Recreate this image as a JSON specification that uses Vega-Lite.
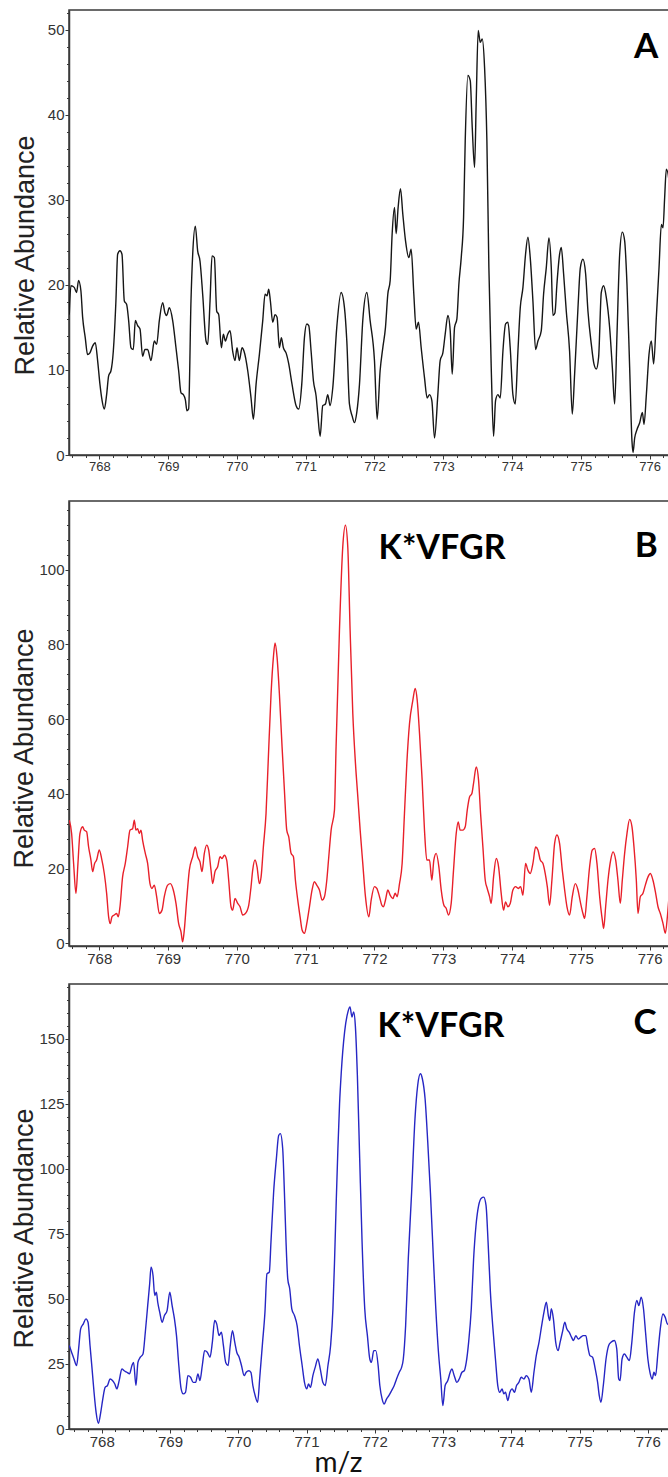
{
  "$schema": "https://vega.github.io/schema/vega-lite/v6.json",
  "background": "white",
  "padding": {"left": 10, "top": 9, "right": 0, "bottom": 0},
  "config": {
    "view": {"stroke": "#3a3a3a", "strokeWidth": 1.5},
    "axis": {
      "grid": false,
      "domainColor": "#3a3a3a",
      "domainWidth": 1.5,
      "tickColor": "#3a3a3a",
      "tickWidth": 1,
      "labelColor": "#333333",
      "labelFont": "Liberation Sans",
      "titleFont": "Liberation Sans",
      "titleFontWeight": "normal",
      "titleColor": "#222222",
      "labelOverlap": false,
      "labelFlush": false
    }
  },
  "datasets": {
    "A": [
      {"mz":767.564,"ab":16.5},{"mz":767.588,"ab":19.9},{"mz":767.636,"ab":19.7},{"mz":767.670,"ab":19.1},{"mz":767.699,"ab":20.5},{"mz":767.733,"ab":19.3},{"mz":767.758,"ab":16.2},{"mz":767.796,"ab":13.8},{"mz":767.830,"ab":11.8},{"mz":767.864,"ab":12.0},{"mz":767.903,"ab":12.8},{"mz":767.942,"ab":13.2},{"mz":767.976,"ab":11.1},{"mz":768.010,"ab":8.3},{"mz":768.039,"ab":6.5},{"mz":768.073,"ab":5.4},{"mz":768.107,"ab":7.1},{"mz":768.136,"ab":9.3},{"mz":768.170,"ab":9.9},{"mz":768.204,"ab":12.2},{"mz":768.242,"ab":18.1},{"mz":768.267,"ab":23.6},{"mz":768.301,"ab":24.0},{"mz":768.330,"ab":23.6},{"mz":768.364,"ab":18.1},{"mz":768.398,"ab":17.7},{"mz":768.427,"ab":15.8},{"mz":768.461,"ab":12.6},{"mz":768.495,"ab":12.4},{"mz":768.524,"ab":15.8},{"mz":768.558,"ab":15.2},{"mz":768.592,"ab":14.8},{"mz":768.630,"ab":11.6},{"mz":768.664,"ab":12.4},{"mz":768.703,"ab":12.4},{"mz":768.752,"ab":11.1},{"mz":768.800,"ab":13.4},{"mz":768.834,"ab":13.0},{"mz":768.873,"ab":15.8},{"mz":768.921,"ab":17.9},{"mz":768.955,"ab":16.7},{"mz":768.979,"ab":16.4},{"mz":769.018,"ab":17.3},{"mz":769.067,"ab":15.8},{"mz":769.115,"ab":12.6},{"mz":769.154,"ab":9.9},{"mz":769.188,"ab":7.3},{"mz":769.222,"ab":7.1},{"mz":769.251,"ab":6.5},{"mz":769.275,"ab":5.2},{"mz":769.299,"ab":5.4},{"mz":769.333,"ab":18.1},{"mz":769.358,"ab":23.6},{"mz":769.396,"ab":26.9},{"mz":769.430,"ab":24.0},{"mz":769.464,"ab":22.8},{"mz":769.503,"ab":18.9},{"mz":769.552,"ab":13.4},{"mz":769.576,"ab":13.0},{"mz":769.610,"ab":18.1},{"mz":769.639,"ab":23.4},{"mz":769.673,"ab":23.2},{"mz":769.707,"ab":16.9},{"mz":769.736,"ab":16.5},{"mz":769.775,"ab":12.6},{"mz":769.804,"ab":14.2},{"mz":769.833,"ab":13.4},{"mz":769.867,"ab":14.2},{"mz":769.901,"ab":14.6},{"mz":769.939,"ab":12.2},{"mz":769.973,"ab":11.1},{"mz":770.002,"ab":12.6},{"mz":770.036,"ab":11.1},{"mz":770.075,"ab":12.6},{"mz":770.104,"ab":12.2},{"mz":770.158,"ab":9.9},{"mz":770.206,"ab":6.7},{"mz":770.240,"ab":4.2},{"mz":770.279,"ab":8.3},{"mz":770.327,"ab":11.8},{"mz":770.376,"ab":15.8},{"mz":770.410,"ab":18.9},{"mz":770.439,"ab":18.7},{"mz":770.463,"ab":19.5},{"mz":770.487,"ab":18.1},{"mz":770.521,"ab":15.6},{"mz":770.555,"ab":16.5},{"mz":770.584,"ab":16.2},{"mz":770.618,"ab":12.6},{"mz":770.647,"ab":13.8},{"mz":770.676,"ab":12.6},{"mz":770.715,"ab":12.0},{"mz":770.754,"ab":10.7},{"mz":770.802,"ab":8.3},{"mz":770.861,"ab":5.8},{"mz":770.899,"ab":5.4},{"mz":770.943,"ab":8.3},{"mz":770.982,"ab":13.8},{"mz":771.016,"ab":15.4},{"mz":771.045,"ab":15.2},{"mz":771.079,"ab":12.2},{"mz":771.113,"ab":8.7},{"mz":771.152,"ab":6.9},{"mz":771.176,"ab":4.8},{"mz":771.210,"ab":2.2},{"mz":771.248,"ab":5.8},{"mz":771.287,"ab":6.0},{"mz":771.321,"ab":7.1},{"mz":771.355,"ab":5.8},{"mz":771.394,"ab":7.9},{"mz":771.452,"ab":15.0},{"mz":771.515,"ab":19.1},{"mz":771.564,"ab":17.3},{"mz":771.598,"ab":13.4},{"mz":771.636,"ab":6.0},{"mz":771.675,"ab":4.6},{"mz":771.709,"ab":3.8},{"mz":771.743,"ab":5.0},{"mz":771.782,"ab":8.3},{"mz":771.830,"ab":15.8},{"mz":771.889,"ab":19.1},{"mz":771.937,"ab":15.8},{"mz":772.000,"ab":11.1},{"mz":772.039,"ab":4.2},{"mz":772.082,"ab":9.9},{"mz":772.121,"ab":12.6},{"mz":772.160,"ab":15.0},{"mz":772.194,"ab":18.9},{"mz":772.228,"ab":20.5},{"mz":772.257,"ab":26.0},{"mz":772.291,"ab":29.1},{"mz":772.315,"ab":26.0},{"mz":772.344,"ab":29.1},{"mz":772.378,"ab":31.3},{"mz":772.412,"ab":28.3},{"mz":772.451,"ab":25.2},{"mz":772.499,"ab":23.2},{"mz":772.533,"ab":24.2},{"mz":772.572,"ab":18.9},{"mz":772.606,"ab":14.8},{"mz":772.640,"ab":15.6},{"mz":772.679,"ab":12.6},{"mz":772.727,"ab":9.1},{"mz":772.766,"ab":6.7},{"mz":772.800,"ab":7.1},{"mz":772.834,"ab":6.4},{"mz":772.873,"ab":2.0},{"mz":772.921,"ab":7.1},{"mz":772.955,"ab":11.1},{"mz":772.994,"ab":12.0},{"mz":773.028,"ab":14.2},{"mz":773.067,"ab":16.4},{"mz":773.101,"ab":14.6},{"mz":773.130,"ab":9.5},{"mz":773.164,"ab":15.0},{"mz":773.198,"ab":16.0},{"mz":773.227,"ab":20.1},{"mz":773.261,"ab":23.2},{"mz":773.295,"ab":27.9},{"mz":773.319,"ab":36.9},{"mz":773.358,"ab":44.6},{"mz":773.392,"ab":44.0},{"mz":773.421,"ab":38.5},{"mz":773.455,"ab":33.8},{"mz":773.479,"ab":41.6},{"mz":773.508,"ab":49.9},{"mz":773.537,"ab":48.5},{"mz":773.566,"ab":48.9},{"mz":773.600,"ab":45.6},{"mz":773.634,"ab":36.9},{"mz":773.663,"ab":22.0},{"mz":773.697,"ab":10.3},{"mz":773.731,"ab":2.2},{"mz":773.760,"ab":6.4},{"mz":773.794,"ab":7.1},{"mz":773.828,"ab":6.7},{"mz":773.867,"ab":12.2},{"mz":773.906,"ab":15.4},{"mz":773.940,"ab":15.6},{"mz":773.973,"ab":12.6},{"mz":774.012,"ab":7.1},{"mz":774.046,"ab":6.0},{"mz":774.085,"ab":12.2},{"mz":774.119,"ab":17.3},{"mz":774.158,"ab":19.7},{"mz":774.196,"ab":23.6},{"mz":774.230,"ab":25.6},{"mz":774.264,"ab":23.2},{"mz":774.303,"ab":18.1},{"mz":774.342,"ab":12.4},{"mz":774.376,"ab":13.4},{"mz":774.424,"ab":14.6},{"mz":774.458,"ab":18.9},{"mz":774.497,"ab":22.0},{"mz":774.536,"ab":25.5},{"mz":774.570,"ab":22.0},{"mz":774.594,"ab":16.4},{"mz":774.623,"ab":16.7},{"mz":774.652,"ab":20.1},{"mz":774.691,"ab":23.6},{"mz":774.715,"ab":24.4},{"mz":774.749,"ab":21.3},{"mz":774.788,"ab":16.9},{"mz":774.836,"ab":12.2},{"mz":774.875,"ab":4.8},{"mz":774.909,"ab":9.5},{"mz":774.958,"ab":17.3},{"mz":774.992,"ab":22.0},{"mz":775.030,"ab":23.0},{"mz":775.069,"ab":21.3},{"mz":775.103,"ab":16.9},{"mz":775.152,"ab":13.0},{"mz":775.190,"ab":10.7},{"mz":775.224,"ab":10.1},{"mz":775.258,"ab":11.5},{"mz":775.297,"ab":19.1},{"mz":775.331,"ab":19.9},{"mz":775.370,"ab":18.5},{"mz":775.418,"ab":15.0},{"mz":775.457,"ab":10.3},{"mz":775.491,"ab":6.0},{"mz":775.525,"ab":14.2},{"mz":775.564,"ab":23.6},{"mz":775.602,"ab":26.2},{"mz":775.636,"ab":25.2},{"mz":775.670,"ab":20.1},{"mz":775.709,"ab":10.3},{"mz":775.743,"ab":1.6},{"mz":775.758,"ab":0.3},{"mz":775.782,"ab":2.0},{"mz":775.816,"ab":3.0},{"mz":775.855,"ab":3.8},{"mz":775.894,"ab":5.0},{"mz":775.918,"ab":3.6},{"mz":775.952,"ab":7.1},{"mz":775.990,"ab":11.8},{"mz":776.024,"ab":13.4},{"mz":776.058,"ab":10.7},{"mz":776.097,"ab":16.2},{"mz":776.136,"ab":22.0},{"mz":776.170,"ab":27.1},{"mz":776.194,"ab":26.7},{"mz":776.218,"ab":30.3},{"mz":776.242,"ab":33.6},{"mz":776.281,"ab":32.2},{"mz":776.310,"ab":29.1}
    ],
    "B": [
      {"mz":767.564,"ab":33.0},{"mz":767.598,"ab":29.4},{"mz":767.627,"ab":21.4},{"mz":767.661,"ab":13.4},{"mz":767.690,"ab":21.4},{"mz":767.719,"ab":29.4},{"mz":767.758,"ab":31.2},{"mz":767.782,"ab":30.3},{"mz":767.816,"ab":29.9},{"mz":767.845,"ab":25.8},{"mz":767.879,"ab":22.3},{"mz":767.903,"ab":19.2},{"mz":767.932,"ab":21.4},{"mz":767.961,"ab":22.3},{"mz":768.000,"ab":25.0},{"mz":768.034,"ab":22.7},{"mz":768.073,"ab":18.7},{"mz":768.107,"ab":13.4},{"mz":768.136,"ab":7.1},{"mz":768.160,"ab":5.3},{"mz":768.184,"ab":7.1},{"mz":768.218,"ab":7.6},{"mz":768.252,"ab":8.0},{"mz":768.276,"ab":7.1},{"mz":768.301,"ab":9.8},{"mz":768.339,"ab":17.8},{"mz":768.378,"ab":21.4},{"mz":768.412,"ab":25.8},{"mz":768.446,"ab":30.3},{"mz":768.485,"ab":30.7},{"mz":768.509,"ab":33.0},{"mz":768.533,"ab":30.3},{"mz":768.558,"ab":30.7},{"mz":768.582,"ab":29.4},{"mz":768.606,"ab":30.3},{"mz":768.630,"ab":27.6},{"mz":768.669,"ab":24.1},{"mz":768.703,"ab":21.4},{"mz":768.737,"ab":16.0},{"mz":768.766,"ab":14.7},{"mz":768.800,"ab":15.6},{"mz":768.834,"ab":12.5},{"mz":768.873,"ab":8.0},{"mz":768.912,"ab":8.9},{"mz":768.945,"ab":12.5},{"mz":768.994,"ab":15.6},{"mz":769.033,"ab":16.0},{"mz":769.076,"ab":14.3},{"mz":769.115,"ab":10.7},{"mz":769.154,"ab":5.3},{"mz":769.188,"ab":3.1},{"mz":769.212,"ab":0.4},{"mz":769.236,"ab":3.6},{"mz":769.270,"ab":11.6},{"mz":769.309,"ab":19.6},{"mz":769.358,"ab":23.2},{"mz":769.396,"ab":25.8},{"mz":769.430,"ab":23.2},{"mz":769.464,"ab":21.8},{"mz":769.493,"ab":19.2},{"mz":769.527,"ab":24.1},{"mz":769.561,"ab":26.3},{"mz":769.590,"ab":25.0},{"mz":769.624,"ab":19.6},{"mz":769.648,"ab":16.0},{"mz":769.682,"ab":19.2},{"mz":769.721,"ab":20.5},{"mz":769.755,"ab":23.2},{"mz":769.784,"ab":22.7},{"mz":769.818,"ab":23.6},{"mz":769.852,"ab":22.3},{"mz":769.881,"ab":16.9},{"mz":769.915,"ab":9.8},{"mz":769.939,"ab":8.9},{"mz":769.973,"ab":12.0},{"mz":770.012,"ab":10.7},{"mz":770.046,"ab":9.8},{"mz":770.085,"ab":7.6},{"mz":770.124,"ab":8.0},{"mz":770.172,"ab":10.2},{"mz":770.206,"ab":15.2},{"mz":770.230,"ab":19.6},{"mz":770.264,"ab":22.3},{"mz":770.293,"ab":20.5},{"mz":770.327,"ab":16.0},{"mz":770.352,"ab":17.8},{"mz":770.385,"ab":25.8},{"mz":770.424,"ab":34.8},{"mz":770.458,"ab":49.9},{"mz":770.497,"ab":66.8},{"mz":770.531,"ab":76.6},{"mz":770.555,"ab":80.4},{"mz":770.584,"ab":76.6},{"mz":770.618,"ab":66.8},{"mz":770.657,"ab":52.6},{"mz":770.691,"ab":41.0},{"mz":770.725,"ab":30.3},{"mz":770.754,"ab":28.5},{"mz":770.788,"ab":24.1},{"mz":770.822,"ab":23.2},{"mz":770.851,"ab":16.9},{"mz":770.885,"ab":11.6},{"mz":770.919,"ab":7.1},{"mz":770.948,"ab":3.6},{"mz":770.982,"ab":2.7},{"mz":771.016,"ab":5.3},{"mz":771.055,"ab":9.8},{"mz":771.093,"ab":14.3},{"mz":771.127,"ab":16.5},{"mz":771.161,"ab":15.6},{"mz":771.200,"ab":14.3},{"mz":771.239,"ab":11.6},{"mz":771.273,"ab":12.5},{"mz":771.307,"ab":16.9},{"mz":771.336,"ab":23.2},{"mz":771.370,"ab":30.3},{"mz":771.418,"ab":35.6},{"mz":771.442,"ab":52.6},{"mz":771.491,"ab":83.8},{"mz":771.539,"ab":106.1},{"mz":771.578,"ab":111.9},{"mz":771.612,"ab":106.1},{"mz":771.646,"ab":83.8},{"mz":771.685,"ab":61.5},{"mz":771.724,"ab":48.1},{"mz":771.758,"ab":39.2},{"mz":771.792,"ab":30.3},{"mz":771.830,"ab":21.4},{"mz":771.869,"ab":12.5},{"mz":771.918,"ab":7.1},{"mz":771.952,"ab":11.6},{"mz":772.000,"ab":15.2},{"mz":772.034,"ab":14.7},{"mz":772.073,"ab":12.5},{"mz":772.107,"ab":10.2},{"mz":772.131,"ab":9.8},{"mz":772.160,"ab":11.6},{"mz":772.194,"ab":14.3},{"mz":772.228,"ab":12.9},{"mz":772.267,"ab":12.0},{"mz":772.301,"ab":13.4},{"mz":772.330,"ab":12.5},{"mz":772.364,"ab":16.0},{"mz":772.402,"ab":21.4},{"mz":772.436,"ab":34.8},{"mz":772.470,"ab":48.1},{"mz":772.509,"ab":58.8},{"mz":772.558,"ab":65.1},{"mz":772.592,"ab":68.2},{"mz":772.621,"ab":65.1},{"mz":772.655,"ab":56.1},{"mz":772.693,"ab":43.7},{"mz":772.727,"ab":30.3},{"mz":772.761,"ab":22.3},{"mz":772.800,"ab":22.3},{"mz":772.834,"ab":16.9},{"mz":772.863,"ab":22.3},{"mz":772.897,"ab":24.1},{"mz":772.936,"ab":20.5},{"mz":772.970,"ab":14.3},{"mz":773.009,"ab":10.2},{"mz":773.042,"ab":9.4},{"mz":773.076,"ab":7.6},{"mz":773.115,"ab":10.7},{"mz":773.149,"ab":19.6},{"mz":773.188,"ab":29.4},{"mz":773.217,"ab":32.5},{"mz":773.246,"ab":30.3},{"mz":773.285,"ab":30.3},{"mz":773.319,"ab":31.2},{"mz":773.348,"ab":35.6},{"mz":773.382,"ab":39.2},{"mz":773.416,"ab":40.1},{"mz":773.440,"ab":42.8},{"mz":773.479,"ab":47.2},{"mz":773.513,"ab":43.7},{"mz":773.542,"ab":34.8},{"mz":773.576,"ab":25.8},{"mz":773.610,"ab":16.9},{"mz":773.639,"ab":14.7},{"mz":773.673,"ab":12.5},{"mz":773.697,"ab":10.7},{"mz":773.731,"ab":17.8},{"mz":773.770,"ab":22.7},{"mz":773.804,"ab":20.5},{"mz":773.842,"ab":13.4},{"mz":773.876,"ab":8.9},{"mz":773.905,"ab":11.1},{"mz":773.939,"ab":9.8},{"mz":773.973,"ab":10.7},{"mz":774.012,"ab":14.3},{"mz":774.051,"ab":15.2},{"mz":774.090,"ab":14.7},{"mz":774.124,"ab":15.2},{"mz":774.158,"ab":12.9},{"mz":774.196,"ab":21.4},{"mz":774.230,"ab":19.6},{"mz":774.264,"ab":18.7},{"mz":774.303,"ab":21.4},{"mz":774.342,"ab":25.8},{"mz":774.376,"ab":25.0},{"mz":774.410,"ab":22.3},{"mz":774.449,"ab":21.4},{"mz":774.482,"ab":18.7},{"mz":774.512,"ab":15.2},{"mz":774.545,"ab":10.2},{"mz":774.579,"ab":16.9},{"mz":774.618,"ab":26.7},{"mz":774.652,"ab":29.0},{"mz":774.691,"ab":26.7},{"mz":774.730,"ab":19.6},{"mz":774.764,"ab":14.3},{"mz":774.798,"ab":9.8},{"mz":774.836,"ab":7.6},{"mz":774.875,"ab":12.5},{"mz":774.919,"ab":16.0},{"mz":774.958,"ab":14.3},{"mz":774.992,"ab":11.1},{"mz":775.030,"ab":8.0},{"mz":775.055,"ab":6.7},{"mz":775.088,"ab":12.5},{"mz":775.127,"ab":20.5},{"mz":775.166,"ab":25.0},{"mz":775.200,"ab":25.4},{"mz":775.234,"ab":21.4},{"mz":775.273,"ab":12.5},{"mz":775.312,"ab":6.2},{"mz":775.331,"ab":4.0},{"mz":775.360,"ab":9.8},{"mz":775.394,"ab":16.9},{"mz":775.433,"ab":22.3},{"mz":775.467,"ab":24.5},{"mz":775.506,"ab":22.3},{"mz":775.539,"ab":16.9},{"mz":775.573,"ab":10.7},{"mz":775.602,"ab":16.9},{"mz":775.636,"ab":24.1},{"mz":775.670,"ab":29.4},{"mz":775.709,"ab":33.2},{"mz":775.743,"ab":31.2},{"mz":775.772,"ab":25.8},{"mz":775.806,"ab":16.9},{"mz":775.830,"ab":8.0},{"mz":775.864,"ab":12.5},{"mz":775.903,"ab":13.4},{"mz":775.937,"ab":15.6},{"mz":775.976,"ab":17.8},{"mz":776.010,"ab":18.7},{"mz":776.048,"ab":16.9},{"mz":776.087,"ab":13.4},{"mz":776.121,"ab":9.8},{"mz":776.155,"ab":8.0},{"mz":776.194,"ab":5.3},{"mz":776.228,"ab":2.7},{"mz":776.257,"ab":7.1},{"mz":776.281,"ab":12.5},{"mz":776.310,"ab":18.7}
    ],
    "C": [
      {"mz":767.524,"ab":32.1},{"mz":767.558,"ab":29.5},{"mz":767.593,"ab":26.9},{"mz":767.632,"ab":24.4},{"mz":767.661,"ab":30.8},{"mz":767.691,"ab":38.5},{"mz":767.730,"ab":40.4},{"mz":767.769,"ab":42.3},{"mz":767.799,"ab":41.0},{"mz":767.828,"ab":32.1},{"mz":767.858,"ab":23.1},{"mz":767.887,"ab":14.1},{"mz":767.917,"ab":6.4},{"mz":767.951,"ab":2.2},{"mz":767.985,"ab":6.4},{"mz":768.015,"ab":11.5},{"mz":768.049,"ab":16.0},{"mz":768.083,"ab":16.7},{"mz":768.123,"ab":19.2},{"mz":768.157,"ab":18.6},{"mz":768.191,"ab":17.3},{"mz":768.221,"ab":15.4},{"mz":768.255,"ab":18.6},{"mz":768.295,"ab":23.1},{"mz":768.329,"ab":22.4},{"mz":768.368,"ab":21.8},{"mz":768.407,"ab":21.2},{"mz":768.442,"ab":24.4},{"mz":768.466,"ab":25.6},{"mz":768.501,"ab":16.7},{"mz":768.530,"ab":25.6},{"mz":768.565,"ab":27.6},{"mz":768.604,"ab":28.8},{"mz":768.638,"ab":37.2},{"mz":768.673,"ab":47.4},{"mz":768.702,"ab":55.8},{"mz":768.722,"ab":62.2},{"mz":768.751,"ab":59.0},{"mz":768.776,"ab":51.3},{"mz":768.800,"ab":52.6},{"mz":768.820,"ab":48.7},{"mz":768.849,"ab":44.9},{"mz":768.884,"ab":41.0},{"mz":768.918,"ab":43.6},{"mz":768.957,"ab":45.5},{"mz":768.997,"ab":52.6},{"mz":769.031,"ab":47.4},{"mz":769.065,"ab":42.3},{"mz":769.095,"ab":35.9},{"mz":769.129,"ab":24.4},{"mz":769.163,"ab":15.4},{"mz":769.193,"ab":13.5},{"mz":769.227,"ab":14.1},{"mz":769.262,"ab":20.5},{"mz":769.301,"ab":19.9},{"mz":769.340,"ab":17.9},{"mz":769.375,"ab":17.9},{"mz":769.409,"ab":21.2},{"mz":769.438,"ab":18.6},{"mz":769.473,"ab":24.4},{"mz":769.507,"ab":30.1},{"mz":769.546,"ab":29.5},{"mz":769.586,"ab":27.6},{"mz":769.620,"ab":33.3},{"mz":769.654,"ab":41.7},{"mz":769.684,"ab":40.4},{"mz":769.718,"ab":35.9},{"mz":769.753,"ab":37.2},{"mz":769.782,"ab":32.1},{"mz":769.816,"ab":25.6},{"mz":769.851,"ab":24.4},{"mz":769.880,"ab":31.4},{"mz":769.915,"ab":37.8},{"mz":769.949,"ab":33.3},{"mz":769.978,"ab":29.5},{"mz":770.013,"ab":27.6},{"mz":770.047,"ab":24.4},{"mz":770.086,"ab":20.5},{"mz":770.116,"ab":21.8},{"mz":770.155,"ab":22.4},{"mz":770.185,"ab":21.8},{"mz":770.214,"ab":16.7},{"mz":770.248,"ab":12.8},{"mz":770.283,"ab":10.3},{"mz":770.317,"ab":20.5},{"mz":770.356,"ab":33.3},{"mz":770.391,"ab":44.9},{"mz":770.420,"ab":59.6},{"mz":770.455,"ab":60.3},{"mz":770.479,"ab":71.8},{"mz":770.518,"ab":91.0},{"mz":770.558,"ab":103.8},{"mz":770.592,"ab":112.8},{"mz":770.617,"ab":113.5},{"mz":770.651,"ab":107.7},{"mz":770.676,"ab":91.0},{"mz":770.700,"ab":71.8},{"mz":770.725,"ab":57.7},{"mz":770.754,"ab":53.8},{"mz":770.784,"ab":46.2},{"mz":770.823,"ab":43.6},{"mz":770.862,"ab":39.7},{"mz":770.896,"ab":32.1},{"mz":770.936,"ab":24.4},{"mz":770.970,"ab":17.9},{"mz":771.004,"ab":15.4},{"mz":771.029,"ab":17.3},{"mz":771.058,"ab":16.0},{"mz":771.093,"ab":20.5},{"mz":771.127,"ab":23.7},{"mz":771.166,"ab":26.9},{"mz":771.201,"ab":23.1},{"mz":771.240,"ab":17.9},{"mz":771.274,"ab":16.7},{"mz":771.314,"ab":24.4},{"mz":771.353,"ab":32.1},{"mz":771.387,"ab":46.2},{"mz":771.411,"ab":65.0},{"mz":771.436,"ab":88.0},{"mz":771.460,"ab":108.0},{"mz":771.484,"ab":125.0},{"mz":771.509,"ab":137.0},{"mz":771.558,"ab":152.6},{"mz":771.607,"ab":160.3},{"mz":771.637,"ab":162.2},{"mz":771.666,"ab":158.3},{"mz":771.691,"ab":160.3},{"mz":771.715,"ab":155.1},{"mz":771.745,"ab":135.9},{"mz":771.779,"ab":103.8},{"mz":771.814,"ab":71.8},{"mz":771.853,"ab":46.2},{"mz":771.892,"ab":35.9},{"mz":771.927,"ab":26.9},{"mz":771.951,"ab":25.6},{"mz":771.985,"ab":30.1},{"mz":772.015,"ab":30.1},{"mz":772.049,"ab":24.4},{"mz":772.074,"ab":16.7},{"mz":772.108,"ab":11.5},{"mz":772.138,"ab":9.6},{"mz":772.172,"ab":11.5},{"mz":772.206,"ab":12.8},{"mz":772.246,"ab":14.7},{"mz":772.285,"ab":16.7},{"mz":772.319,"ab":19.2},{"mz":772.359,"ab":21.8},{"mz":772.393,"ab":23.7},{"mz":772.418,"ab":26.9},{"mz":772.452,"ab":39.7},{"mz":772.491,"ab":65.4},{"mz":772.540,"ab":91.0},{"mz":772.589,"ab":119.2},{"mz":772.629,"ab":132.1},{"mz":772.668,"ab":136.5},{"mz":772.697,"ab":134.6},{"mz":772.737,"ab":126.9},{"mz":772.776,"ab":110.3},{"mz":772.815,"ab":91.0},{"mz":772.859,"ab":65.4},{"mz":772.894,"ab":46.2},{"mz":772.933,"ab":29.5},{"mz":772.967,"ab":19.2},{"mz":772.997,"ab":9.0},{"mz":773.031,"ab":16.7},{"mz":773.070,"ab":18.6},{"mz":773.105,"ab":21.8},{"mz":773.129,"ab":23.1},{"mz":773.164,"ab":20.5},{"mz":773.203,"ab":17.9},{"mz":773.237,"ab":19.2},{"mz":773.277,"ab":21.8},{"mz":773.311,"ab":22.4},{"mz":773.340,"ab":25.6},{"mz":773.375,"ab":33.3},{"mz":773.414,"ab":46.2},{"mz":773.448,"ab":65.4},{"mz":773.483,"ab":78.2},{"mz":773.522,"ab":85.9},{"mz":773.561,"ab":88.7},{"mz":773.596,"ab":89.1},{"mz":773.630,"ab":85.9},{"mz":773.660,"ab":71.8},{"mz":773.694,"ab":52.6},{"mz":773.728,"ab":39.7},{"mz":773.768,"ab":26.9},{"mz":773.802,"ab":16.7},{"mz":773.831,"ab":14.1},{"mz":773.866,"ab":15.4},{"mz":773.890,"ab":13.5},{"mz":773.915,"ab":14.1},{"mz":773.949,"ab":10.9},{"mz":773.979,"ab":14.1},{"mz":774.013,"ab":15.4},{"mz":774.047,"ab":14.1},{"mz":774.077,"ab":16.7},{"mz":774.111,"ab":17.9},{"mz":774.146,"ab":19.9},{"mz":774.185,"ab":19.2},{"mz":774.219,"ab":20.5},{"mz":774.258,"ab":19.2},{"mz":774.293,"ab":14.1},{"mz":774.332,"ab":21.8},{"mz":774.366,"ab":28.2},{"mz":774.406,"ab":33.3},{"mz":774.445,"ab":39.7},{"mz":774.479,"ab":44.9},{"mz":774.514,"ab":48.7},{"mz":774.543,"ab":43.6},{"mz":774.563,"ab":41.7},{"mz":774.587,"ab":46.2},{"mz":774.617,"ab":42.3},{"mz":774.651,"ab":33.3},{"mz":774.686,"ab":30.1},{"mz":774.715,"ab":33.3},{"mz":774.749,"ab":37.2},{"mz":774.784,"ab":41.0},{"mz":774.813,"ab":38.5},{"mz":774.848,"ab":37.2},{"mz":774.882,"ab":35.3},{"mz":774.911,"ab":34.0},{"mz":774.946,"ab":35.9},{"mz":774.980,"ab":34.6},{"mz":775.019,"ab":35.3},{"mz":775.054,"ab":35.9},{"mz":775.093,"ab":35.9},{"mz":775.118,"ab":32.1},{"mz":775.152,"ab":28.2},{"mz":775.191,"ab":27.6},{"mz":775.230,"ab":23.1},{"mz":775.265,"ab":17.9},{"mz":775.289,"ab":12.8},{"mz":775.314,"ab":10.3},{"mz":775.348,"ab":16.7},{"mz":775.388,"ab":26.9},{"mz":775.427,"ab":32.1},{"mz":775.461,"ab":33.3},{"mz":775.510,"ab":34.0},{"mz":775.545,"ab":30.8},{"mz":775.574,"ab":19.2},{"mz":775.594,"ab":18.6},{"mz":775.623,"ab":26.9},{"mz":775.658,"ab":28.8},{"mz":775.692,"ab":27.6},{"mz":775.731,"ab":26.3},{"mz":775.766,"ab":33.3},{"mz":775.805,"ab":44.9},{"mz":775.839,"ab":49.4},{"mz":775.869,"ab":47.4},{"mz":775.903,"ab":50.6},{"mz":775.937,"ab":46.2},{"mz":775.967,"ab":37.2},{"mz":776.001,"ab":26.9},{"mz":776.036,"ab":21.2},{"mz":776.065,"ab":19.2},{"mz":776.090,"ab":21.8},{"mz":776.114,"ab":20.5},{"mz":776.149,"ab":29.5},{"mz":776.183,"ab":38.5},{"mz":776.222,"ab":44.2},{"mz":776.256,"ab":42.9},{"mz":776.286,"ab":40.4},{"mz":776.340,"ab":39.7}
    ]
  },
  "spacing": 26,
  "vconcat": [
    {
      "width": 602,
      "height": 445,
      "resolve": {"axis": {"x": "independent", "y": "independent"}},
      "layer": [
        {
          "data": {"name": "A"},
          "mark": {"type": "line", "color": "#161616", "strokeWidth": 1.4, "clip": true, "interpolate": "monotone"},
          "encoding": {
            "x": {"field": "mz", "type": "quantitative",
              "scale": {"domain": [767.56, 776.31], "nice": false, "zero": false},
              "axis": {"orient": "bottom", "title": null, "values": [768,769,770,771,772,773,774,775,776], "format": "d", "tickSize": 4, "labelFontSize": 13, "labelPadding": 1}},
            "y": {"field": "ab", "type": "quantitative",
              "scale": {"domain": [0, 52.3], "nice": false, "zero": false},
              "axis": {"orient": "left", "title": "Relative Abundance", "titleFontSize": 27, "titleY": 245, "titlePadding": 0, "minExtent": 30,
                "values": [0,10,20,30,40,50], "tickSize": 4, "labelFontSize": 15, "labelPadding": 1}}
          }
        },
        {
          "data": {"values": [{}]},
          "mark": {"type": "text", "font": "Lato", "fontWeight": "bold", "fontSize": 35, "align": "center", "baseline": "alphabetic", "color": "#000000"},
          "encoding": {
            "x": {"datum": 775.95, "type": "quantitative", "scale": {"domain": [767.56, 776.31], "nice": false, "zero": false},
              "axis": {"orient": "bottom", "title": null, "labels": false, "domain": false, "tickSize": 2.5,
                "values": [767.6,767.8,768.2,768.4,768.6,768.8,769.2,769.4,769.6,769.8,770.2,770.4,770.6,770.8,771.2,771.4,771.6,771.8,772.2,772.4,772.6,772.8,773.2,773.4,773.6,773.8,774.2,774.4,774.6,774.8,775.2,775.4,775.6,775.8,776.2]}},
            "y": {"datum": 46.7, "type": "quantitative", "scale": {"domain": [0, 52.3], "nice": false, "zero": false},
              "axis": {"orient": "left", "title": null, "labels": false, "domain": false, "tickSize": 2.5,
                "values": [2,4,6,8,12,14,16,18,22,24,26,28,32,34,36,38,42,44,46,48,52]}},
            "text": {"value": "A"}
          }
        }
      ]
    },
    {
      "spacing": 16,
      "vconcat": [
        {
          "width": 602,
          "height": 445,
          "resolve": {"axis": {"x": "independent", "y": "independent"}},
          "layer": [
            {
              "data": {"name": "B"},
              "mark": {"type": "line", "color": "#e8202a", "strokeWidth": 1.4, "clip": true, "interpolate": "monotone"},
              "encoding": {
                "x": {"field": "mz", "type": "quantitative",
                  "scale": {"domain": [767.56, 776.31], "nice": false, "zero": false},
                  "axis": {"orient": "bottom", "title": null, "values": [768,769,770,771,772,773,774,775,776], "format": "d", "tickSize": 4, "labelFontSize": 15, "labelPadding": 1}},
                "y": {"field": "ab", "type": "quantitative",
                  "scale": {"domain": [-0.7, 118.4], "nice": false, "zero": false},
                  "axis": {"orient": "left", "title": "Relative Abundance", "titleFontSize": 27, "titleY": 247, "titlePadding": 0, "minExtent": 30,
                    "values": [0,20,40,60,80,100], "tickSize": 4, "labelFontSize": 15, "labelPadding": 1}}
              }
            },
            {
              "data": {"values": [{}]},
              "mark": {"type": "text", "font": "Lato", "fontWeight": "bold", "fontSize": 35, "align": "center", "baseline": "alphabetic", "color": "#000000"},
              "encoding": {
                "x": {"datum": 775.95, "type": "quantitative", "scale": {"domain": [767.56, 776.31], "nice": false, "zero": false},
                  "axis": {"orient": "bottom", "title": null, "labels": false, "domain": false, "tickSize": 2.5,
                    "values": [767.6,767.8,768.2,768.4,768.6,768.8,769.2,769.4,769.6,769.8,770.2,770.4,770.6,770.8,771.2,771.4,771.6,771.8,772.2,772.4,772.6,772.8,773.2,773.4,773.6,773.8,774.2,774.4,774.6,774.8,775.2,775.4,775.6,775.8,776.2]}},
                "y": {"datum": 103.3, "type": "quantitative", "scale": {"domain": [-0.7, 118.4], "nice": false, "zero": false},
                  "axis": {"orient": "left", "title": null, "labels": false, "domain": false, "tickSize": 2.5,
                    "values": [4,8,12,16,24,28,32,36,44,48,52,56,64,68,72,76,84,88,92,96,104,108,112,116]}},
                "text": {"value": "B"}
              }
            },
            {
              "data": {"values": [{}]},
              "mark": {"type": "text", "font": "Lato", "fontWeight": "bold", "fontSize": 34, "align": "left", "baseline": "alphabetic", "color": "#000000"},
              "encoding": {
                "x": {"datum": 772.06, "type": "quantitative", "scale": {"domain": [767.56, 776.31], "nice": false, "zero": false}, "axis": null},
                "y": {"datum": 103.0, "type": "quantitative", "scale": {"domain": [-0.7, 118.4], "nice": false, "zero": false}, "axis": null},
                "text": {"value": "K*VFGR"}
              }
            }
          ]
        },
        {
          "width": 602,
          "height": 445,
          "resolve": {"axis": {"x": "independent", "y": "independent"}},
          "layer": [
            {
              "data": {"name": "C"},
              "mark": {"type": "line", "color": "#2626c4", "strokeWidth": 1.4, "clip": true, "interpolate": "monotone"},
              "encoding": {
                "x": {"field": "mz", "type": "quantitative",
                  "scale": {"domain": [767.52, 776.34], "nice": false, "zero": false},
                  "axis": {"orient": "bottom", "title": "m/z", "titleFont": "Lato", "titleFontSize": 28, "titleColor": "#111111", "titleX": 269, "titlePadding": 0,
                    "values": [768,769,770,771,772,773,774,775,776], "format": "d", "tickSize": 4, "labelFontSize": 15, "labelPadding": 1}},
                "y": {"field": "ab", "type": "quantitative",
                  "scale": {"domain": [0, 171], "nice": false, "zero": false},
                  "axis": {"orient": "left", "title": "Relative Abundance", "titleFontSize": 27, "titleY": 244, "titlePadding": 0, "minExtent": 30,
                    "values": [0,25,50,75,100,125,150], "tickSize": 4, "labelFontSize": 15, "labelPadding": 1}}
              }
            },
            {
              "data": {"values": [{}]},
              "mark": {"type": "text", "font": "Lato", "fontWeight": "bold", "fontSize": 35, "align": "center", "baseline": "alphabetic", "color": "#000000"},
              "encoding": {
                "x": {"datum": 775.96, "type": "quantitative", "scale": {"domain": [767.52, 776.34], "nice": false, "zero": false},
                  "axis": {"orient": "bottom", "title": null, "labels": false, "domain": false, "tickSize": 2.5,
                    "values": [767.6,767.8,768.2,768.4,768.6,768.8,769.2,769.4,769.6,769.8,770.2,770.4,770.6,770.8,771.2,771.4,771.6,771.8,772.2,772.4,772.6,772.8,773.2,773.4,773.6,773.8,774.2,774.4,774.6,774.8,775.2,775.4,775.6,775.8,776.2]}},
                "y": {"datum": 151.9, "type": "quantitative", "scale": {"domain": [0, 171], "nice": false, "zero": false},
                  "axis": {"orient": "left", "title": null, "labels": false, "domain": false, "tickSize": 2.5,
                    "values": [5,10,15,20,30,35,40,45,55,60,65,70,80,85,90,95,105,110,115,120,130,135,140,145,155,160,165,170]}},
                "text": {"value": "C"}
              }
            },
            {
              "data": {"values": [{}]},
              "mark": {"type": "text", "font": "Lato", "fontWeight": "bold", "fontSize": 34, "align": "left", "baseline": "alphabetic", "color": "#000000"},
              "encoding": {
                "x": {"datum": 772.04, "type": "quantitative", "scale": {"domain": [767.52, 776.34], "nice": false, "zero": false}, "axis": null},
                "y": {"datum": 150.8, "type": "quantitative", "scale": {"domain": [0, 171], "nice": false, "zero": false}, "axis": null},
                "text": {"value": "K*VFGR"}
              }
            }
          ]
        }
      ]
    }
  ]
}
